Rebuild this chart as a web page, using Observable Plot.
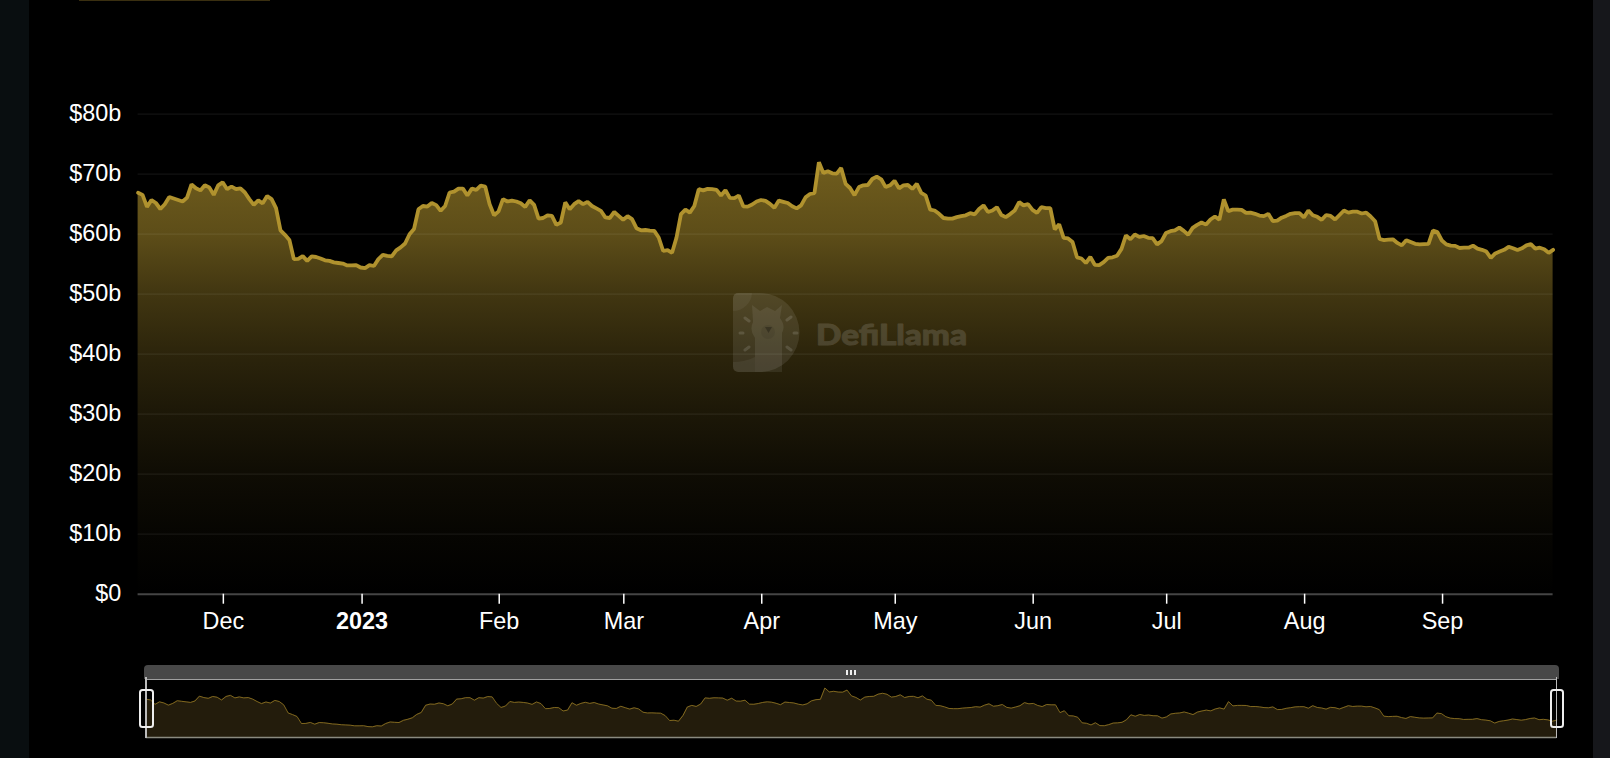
<!DOCTYPE html>
<html>
<head>
<meta charset="utf-8">
<script src="https://cdn.jsdelivr.net/npm/d3@7"></script>
<script src="https://cdn.jsdelivr.net/npm/@observablehq/plot@0.6"></script>
<style>
html,body{margin:0;padding:0;background:#000;width:1610px;height:758px;overflow:hidden;font-family:"Liberation Sans",Arial,sans-serif}
#page{position:relative;width:1610px;height:758px;background:#000;overflow:hidden}
.abs{position:absolute}
#page svg{display:block;background:transparent}
</style>
</head>
<body>
<div id="page">
  <div class="abs" style="left:0;top:0;width:29px;height:758px;background:#090e10"></div>
  <div class="abs" style="left:1593px;top:0;width:17px;height:758px;background:#16171b"></div>
  <div class="abs" style="left:79px;top:0;width:191px;height:1px;background:#3a2f10"></div>
  <div id="main" class="abs" style="left:0;top:0"></div>
  <div id="mini" class="abs" style="left:0;top:650px"></div>
  <div class="abs" style="left:144px;top:665px;width:1414.5px;height:13.5px;background:#484848;border-radius:4px 4px 0 0"></div>
  <div class="abs" style="left:846px;top:669.5px;width:2px;height:5px;background:#eee"></div>
  <div class="abs" style="left:850px;top:669.5px;width:2px;height:5px;background:#eee"></div>
  <div class="abs" style="left:854px;top:669.5px;width:2px;height:5px;background:#eee"></div>
  <div class="abs" style="left:145.2px;top:677px;width:1.4px;height:61px;background:#bbb"></div>
  <div class="abs" style="left:1555.6px;top:677px;width:1.4px;height:61px;background:#bbb"></div>
  <div class="abs" style="left:139.2px;top:689px;width:10.5px;height:35px;border:2px solid #eee;border-radius:3.5px"></div>
  <div class="abs" style="left:1549.6px;top:689px;width:10.5px;height:35px;border:2px solid #eee;border-radius:3.5px"></div>
  <svg class="abs" style="left:0;top:0" width="1610" height="758" viewBox="0 0 1610 758">
    <path d="M738,293H760A39.5,39.5 0 0 1 760,372H738A5,5 0 0 1 733,367V298A5,5 0 0 1 738,293Z" fill="#fff" fill-opacity=".09"/>
    <path d="M733,311V298A5,5 0 0 1 738,293H752A19,19 0 0 1 733,311Z" fill="#fff" fill-opacity=".05"/>
    <path d="M733,367V362Q745,362 755,357V372H738A5,5 0 0 1 733,367Z" fill="#fff" fill-opacity=".05"/>
    <path d="M752,305L760,311L767,307L775,311L782,305L780,318Q786,326 782,333V372H755V338Q749,330 753,322Z" fill="#fff" fill-opacity=".08"/>
    <circle cx="768" cy="332" r="7" fill="#000" fill-opacity=".07"/>
    <path d="M765,327H772L768.5,333Z" fill="#000" fill-opacity=".28"/>
    <g stroke="#fff" stroke-opacity=".13" stroke-width="3" stroke-linecap="round">
      <path d="M745,318L749,321M787,320L791,317M740,333H743M794,333H797M745,350L749,347M787,347L791,350"/>
    </g>
    <g opacity=".135"><text x="816" y="345" font-family="Lato,'Open Sans',sans-serif" font-weight="900" font-size="29" textLength="151" lengthAdjust="spacingAndGlyphs" fill="#fff" stroke="#fff" stroke-width=".9" stroke-linejoin="round">DefiLlama</text></g>
  </svg>
</div>
<script>
const startDate = "2022-11-12";
const tvlValues = [
66.9,66.55,64.55,65.7,65.2,64.2,65.0,66.2,65.95,65.7,65.45,66.1,68.3,67.65,67.3,68.15,67.8,66.55,68.15,68.65,
67.5,67.95,67.5,67.65,66.95,65.85,64.9,65.65,65.15,66.35,65.85,64.35,60.65,59.9,59.05,55.85,55.9,56.35,55.55,56.3,
56.2,55.95,55.65,55.55,55.3,55.2,55.1,54.8,54.8,54.85,54.45,54.35,54.85,54.7,55.85,56.55,56.4,56.3,57.3,57.8,
58.45,60,60.85,64.15,64.7,64.6,65.2,64.85,63.9,64.7,66.95,67.1,67.6,67.6,66.45,67.6,67.4,68.1,67.95,65,
63.15,63.8,65.85,65.45,65.6,65.45,65.15,64.55,65.65,64.9,62.6,62.7,63.15,63.05,61.55,61.95,65.3,64.15,65,65.5,
65,65.4,64.7,64.3,63.9,62.8,62.7,63.7,63.05,62.4,63,62.5,61,60.65,60.7,60.6,60.55,59.45,57.2,57.35,
56.9,59.45,63.35,64.1,63.6,64.7,67.5,67.3,67.55,67.5,67.4,66.45,67.35,66.05,66,66.45,64.65,64.6,64.95,65.45,
65.7,65.55,65.05,64.4,65.6,65.4,65.2,64.65,64.3,64.8,66.15,66.7,66.85,72,70.2,70.5,70.15,70.1,71.05,68.4,
67.7,66.5,67.85,68.15,68.2,69.2,69.6,69.15,67.85,68.15,68.9,67.65,68.15,68.2,67.55,68.4,66.9,66.45,64.1,63.95,
63.4,62.7,62.6,62.6,62.85,63,63.15,63.5,63.3,64.2,64.8,63.7,63.95,64.5,63.2,62.85,63.35,63.95,65.35,64.8,
65,64.05,63.55,64.5,64.35,64.35,60.8,61.65,59.4,59.3,58.7,56.15,55.95,55.2,56.2,54.9,54.85,55.35,56.05,56.15,
56.4,57.55,59.8,59.15,59.95,59.55,59.7,59.4,59.35,58.3,58.85,60.2,60.5,60.65,61.1,60.55,59.9,61.05,61.55,61.95,
61.6,62.45,62.95,62.4,65.8,63.85,64.1,64.1,64.05,63.55,63.6,63.4,63.1,63.0,63.4,62.2,62.25,62.75,63.05,63.4,
63.5,63.5,62.8,63.95,63.15,62.9,62.4,63.2,63.05,62.45,63.2,63.95,63.6,63.75,63.75,63.45,63.6,62.95,62.15,59.2,
59,59.1,59.15,58.55,58.15,59,58.7,58.4,58.3,58.35,58.4,60.6,60.35,58.95,58.3,58.1,58.05,57.7,57.75,57.75,
58.1,57.6,57.4,57.1,56.05,56.8,57.1,57.4,57.9,57.65,57.35,57.65,58.15,58.35,57.6,57.75,57.5,56.9,57.4
];
const yTicks = [0,10,20,30,40,50,60,70,80];
const monthTicks = ["2022-12-01","2023-02-01","2023-03-01","2023-04-01","2023-05-01","2023-06-01","2023-07-01","2023-08-01","2023-09-01"];
const monthLabels = ["Dec","Feb","Mar","Apr","May","Jun","Jul","Aug","Sep"];
const yearTick = "2023-01-01";
const yearLabel = "2023";
const gradientOffsets = [0,0.028,0.167,0.306,0.444,0.583,0.722,0.861,1];
const gradientAlphas = [0.64,0.62,0.53,0.37,0.25,0.16,0.085,0.035,0];

const t0 = new Date(startDate + "T00:00:00Z");
const rows = tvlValues.map((v, i) => ({date: d3.utcDay.offset(t0, i), value: v}));
const xDomain = [rows[0].date, rows[rows.length - 1].date];
const monthDates = monthTicks.map(s => new Date(s + "T00:00:00Z"));
const labelOf = new Map(monthDates.map((d, i) => [+d, monthLabels[i]]));
const gold = "#b0922e";
const fontFamily = '"Liberation Sans",Arial,sans-serif';

const gradient = () => {
  const ns = "http://www.w3.org/2000/svg";
  const defs = document.createElementNS(ns, "defs");
  const stops = gradientOffsets.map((o, i) => `<stop offset="${o}" stop-color="${gold}" stop-opacity="${gradientAlphas[i]}"/>`).join("");
  defs.innerHTML = `<linearGradient id="tvlFill" x1="0" y1="0" x2="0" y2="1">${stops}</linearGradient>`;
  return defs;
};

const main = Plot.plot({
  width: 1610, height: 650,
  marginLeft: 137.6, marginRight: 57.4, marginTop: 113.7, marginBottom: 56.3,
  style: {background: "transparent", fontFamily, color: "#fff"},
  x: {type: "utc", domain: xDomain},
  y: {domain: [0, 80]},
  marks: [
    gradient,
    Plot.areaY(rows, {x: "date", y: "value", fill: "url(#tvlFill)"}),
    Plot.ruleY(yTicks.filter(d => d > 0), {stroke: "#fff", strokeOpacity: 0.07, strokeWidth: 1.3}),
    Plot.ruleY([0], {stroke: "#454545", strokeWidth: 2}),
    Plot.lineY(rows, {x: "date", y: "value", stroke: gold, strokeWidth: 3.8, strokeLinejoin: "bevel"}),
    Plot.axisY({ticks: yTicks, tickFormat: d => d === 0 ? "$0" : `$${d}b`, tickSize: 0, tickPadding: 16.8, fontSize: 23.4, fill: "#fff", label: null, dy: -0.8}),
    Plot.axisX({ticks: monthDates, tickFormat: d => labelOf.get(+d), tickSize: 10, tickPadding: 8, stroke: "#fff", strokeWidth: 1.5, fontSize: 23.4, fill: "#fff", label: null, dx: 0.7}),
    Plot.axisX({ticks: [new Date(yearTick + "T00:00:00Z")], tickFormat: () => yearLabel, tickSize: 10, tickPadding: 8, stroke: "#fff", strokeWidth: 1.5, fontSize: 23.4, fontWeight: "bold", fill: "#fff", label: null, dx: 1.5})
  ]
});
document.getElementById("main").append(main);

const miniFloor = 49.5, miniTop = 76;
const mini = Plot.plot({
  width: 1610, height: 108,
  marginLeft: 145.7, marginRight: 53.7, marginTop: 28.7, marginBottom: 21,
  style: {background: "transparent", fontFamily},
  x: {type: "utc", domain: xDomain, axis: null},
  y: {domain: [miniFloor, miniTop], axis: null},
  marks: [
    Plot.areaY(rows, {x: "date", y1: miniFloor, y2: "value", fill: "#231c0c"}),
    Plot.lineY(rows, {x: "date", y: "value", stroke: "#8a6f20", strokeWidth: 0.9}),
    Plot.ruleY([miniTop], {stroke: "#a0a0a0", strokeWidth: 1.4}),
    Plot.ruleY([miniFloor], {stroke: "#8a8a80", strokeWidth: 1.6})
  ]
});
document.getElementById("mini").append(mini);
</script>
</body>
</html>
